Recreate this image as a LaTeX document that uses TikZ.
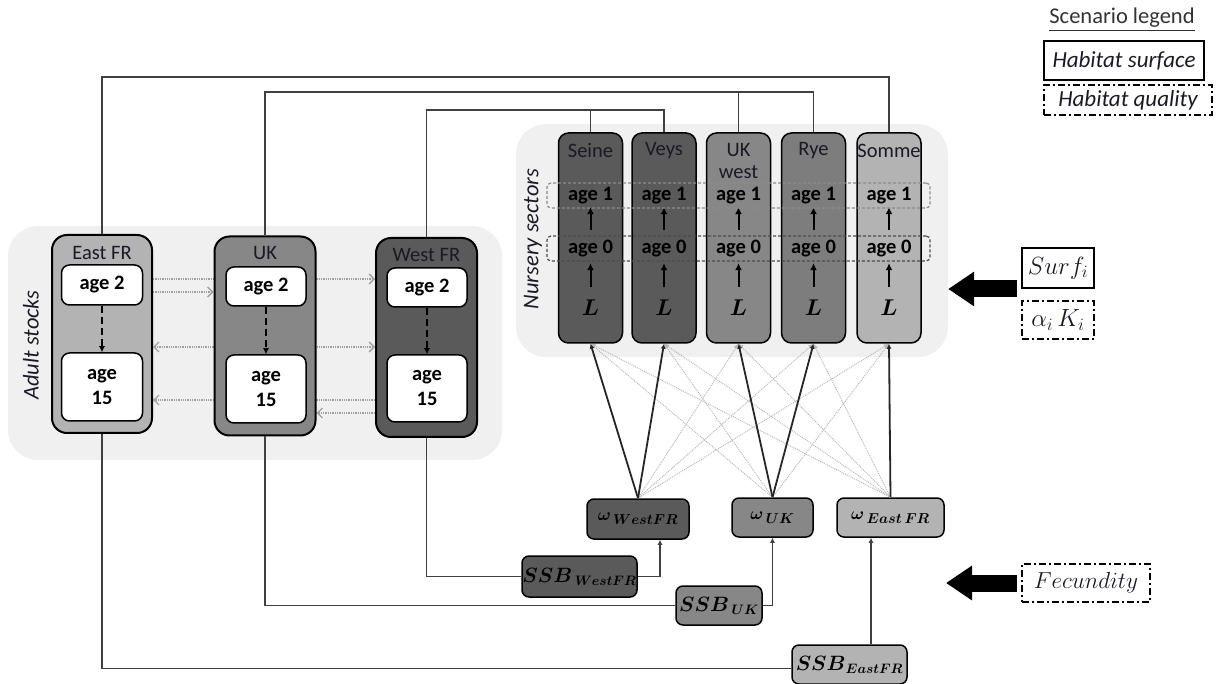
\documentclass[tikz,border=0pt]{standalone}
\usepackage{amsmath}
\usepackage{fontspec}
\setmainfont{Carlito}
\usetikzlibrary{arrows.meta,calc}
\definecolor{bgc}{HTML}{F0F0F0}
\definecolor{lightc}{HTML}{B3B3B3}
\definecolor{midc}{HTML}{878787}
\definecolor{ryec}{HTML}{7D7D7D}
\definecolor{darkc}{HTML}{5A5A5A}
\definecolor{txt}{HTML}{1A1A24}
\definecolor{dotc}{HTML}{A0A0A0}
\definecolor{linec}{HTML}{404040}
\pgfdeclarelayer{back}
\pgfdeclarelayer{mid}
\pgfsetlayers{back,mid,main}
\newcommand{\bsy}[1]{\boldsymbol{#1}}
\newcommand{\ssbsub}[1]{\scalebox{0.95}{$\scriptstyle\boldsymbol{#1}$}}
\tikzset{
 bgbox/.style={fill=bgc, draw=none, rounded corners=30pt, inner sep=0pt},
 stockbox/.style={draw=black, line width=2pt, rounded corners=15pt, inner sep=0pt},
 agebox/.style={draw=black, line width=1.5pt, fill=white, rounded corners=8pt, inner sep=0pt, align=center, text=black, font=\fontsize{20.5}{25}\selectfont\bfseries},
 sectorbox/.style={draw=black, line width=1.5pt, rounded corners=10pt, inner sep=0pt, minimum width=64pt, minimum height=210pt},
 lbl/.style={inner sep=0pt, align=center, text=txt, font=\fontsize{20.5}{22}\selectfont},
 blbl/.style={inner sep=0pt, align=center, text=black, font=\fontsize{20.5}{22}\selectfont\bfseries, text height=14pt, text depth=4pt},
 sidelbl/.style={inner sep=0pt, text=txt, rotate=90, font=\fontsize{22.5}{24}\selectfont\itshape},
 migr/.style={draw=dotc, densely dotted, line width=1.3pt, -{Straight Barb[length=5pt,width=10pt]}},
 agearrow/.style={draw=black, line width=2pt, dash pattern=on 7pt off 4pt, -{Latex[length=6pt,width=6pt]}},
 uparrow/.style={draw=black, line width=2pt, -{Latex[length=7pt,width=7pt]}},
 rowbox/.style={line width=1.2pt, dash pattern=on 3pt off 2pt, rounded corners=4pt, inner sep=0pt, minimum width=383pt, minimum height=25pt},
 wbox/.style={draw=black, line width=1.5pt, rounded corners=7pt, inner sep=0pt, font=\fontsize{19}{22}\selectfont, text=black},
 sbox/.style={wbox, font=\fontsize{21}{24}\selectfont},
 slink/.style={draw=black!85, line width=1.8pt, -{Latex[length=5pt,width=5pt]}},
 wlink/.style={draw=black!28, densely dotted, line width=1pt, -{Latex[length=5pt,width=5pt]}},
 conn/.style={draw=linec, line width=1.2pt},
 connarrow/.style={conn, -{Latex[length=5pt,width=5pt]}},
 solidbox/.style={draw=black, line width=2pt, inner sep=0pt},
 ddbox/.style={draw=black, line width=2pt, inner sep=0pt, dash pattern=on 7pt off 3pt on 2pt off 3pt},
 bigarrow/.style={draw=black, line width=17pt, -{Triangle[length=26pt,width=33pt]}},
 mathlbl/.style={inner sep=0pt, text=txt, font=\fontsize{21}{24}\selectfont},
 legtxt/.style={inner sep=0pt, text=txt, font=\fontsize{23}{26}\selectfont\itshape}
}
\begin{document}
\begin{tikzpicture}[x=1pt,y=-1pt]
\useasboundingbox (0,0) rectangle (1216,684);

% backgrounds
\begin{pgfonlayer}{back}
\node[bgbox, minimum width=494pt, minimum height=234pt] (adultbg) at (255,343) {};
\node[bgbox, minimum width=432pt, minimum height=233pt] (nursbg) at (732,240.5) {};
\end{pgfonlayer}

\node[sidelbl] (adultlbl) at (31,345) {Adult stocks};
\node[sidelbl] (nurslbl) at (533,239) {Nursery sectors};

% adult stocks
\node[stockbox, fill=lightc, minimum width=100pt, minimum height=198pt] (EastFR) at (102,334) {};
\node[stockbox, fill=midc, minimum width=101pt, minimum height=199pt] (UK) at (265,336) {};
\node[stockbox, fill=darkc, minimum width=101pt, minimum height=199pt] (WestFR) at (426.5,337.5) {};
\node[lbl] (EastFRt) at (102,253) {East FR};
\node[lbl] (UKt) at (265,253) {UK};
\node[lbl] (WestFRt) at (426.5,255) {West FR};
\node[agebox, minimum width=81pt, minimum height=40pt] (E2) at (102,285) {age 2};
\node[agebox, minimum width=80pt, minimum height=39pt] (U2) at (266,286.5) {age 2};
\node[agebox, minimum width=80pt, minimum height=39pt] (W2) at (427,287.5) {age 2};
\node[agebox, minimum width=81pt, minimum height=68pt] (E15) at (102,387) {age\\15};
\node[agebox, minimum width=80pt, minimum height=68pt] (U15) at (266,389) {age\\15};
\node[agebox, minimum width=80pt, minimum height=67pt] (W15) at (427,388.5) {age\\15};
\draw[agearrow] (E2.south) -- (E15.north);
\draw[agearrow] (U2.south) -- (U15.north);
\draw[agearrow] (W2.south) -- (W15.north);

% migration
\begin{pgfonlayer}{mid}
\draw[migr] (EastFR.east |- 0,279) -- (WestFR.west |- 0,279);
\draw[migr] (EastFR.east |- 0,292) -- (UK.west |- 0,292);
\draw[migr] (UK.east |- 0,347) -- (WestFR.west |- 0,347);
\draw[migr] (UK.west |- 0,347) -- (EastFR.east |- 0,347);
\draw[migr] (WestFR.west |- 0,400) -- (EastFR.east |- 0,400);
\draw[migr] (WestFR.west |- 0,413) -- (UK.east |- 0,413);
\end{pgfonlayer}

% nursery sectors
\foreach \n/\x/\c/\t/\ty in {Seine/590.5/darkc/Seine/151, Veys/664/darkc/Veys/151, UKw/738.5/midc/{UK\\west}/161.5, Rye/813.5/ryec/Rye/151, Somme/889/lightc/Somme/151}{
  \node[sectorbox, fill=\c] (\n) at (\x,238) {};
  \node[lbl] (\n-t) at (\x,\ty) {\t};
  \node[blbl] (\n-1) at (\x,196) {age 1};
  \node[blbl] (\n-0) at (\x,249) {age 0};
  \node[inner sep=0pt, text height=14pt, text depth=0pt, font=\fontsize{20}{22}\selectfont] (\n-L) at (\x,309) {\scalebox{1.1}{$\bsy{L}$}};
  \draw[uparrow, shorten <=15pt, shorten >=5pt] (\n-L.north) -- (\n-0.south);
  \draw[uparrow, shorten <=10pt, shorten >=2pt] (\n-0.north) -- (\n-1.south);
}
\node[rowbox, draw=black!45] (row1) at (738.5,195.5) {};
\node[rowbox, draw=black!70] (row0) at (738.5,248.5) {};

% top connectors
\coordinate (t1) at (500,77);
\coordinate (t2) at (500,92);
\coordinate (t3) at (500,110);
\draw[conn] (EastFR.north) |- (t1) -| (Somme.north);
\draw[conn] (UK.north) |- (t2) -| (Rye.north);
\draw[conn] (UKw.north) -- (UKw.north |- t2);
\draw[conn] (WestFR.north) |- (t3) -| (Veys.north);
\draw[conn] (Seine.north) -- (Seine.north |- t3);

% omega and SSB boxes
\node[wbox, fill=darkc, minimum width=102pt, minimum height=40pt] (wW) at (638,519) {$\bsy{\omega}_{\,\bsy{WestFR}}$};
\node[wbox, fill=midc, minimum width=81pt, minimum height=39pt] (wU) at (772.5,517.5) {$\bsy{\omega}_{\,\bsy{UK}}$};
\node[wbox, fill=lightc, minimum width=107pt, minimum height=39pt] (wE) at (890.5,517.5) {$\bsy{\omega}_{\,\bsy{East\,FR}}$};
\node[sbox, fill=darkc, minimum width=115pt, minimum height=41pt] (sW) at (579.5,576.5) {$\bsy{SSB}_{\,\ssbsub{WestFR}}$};
\node[sbox, fill=midc, minimum width=86pt, minimum height=39pt] (sU) at (719,605.5) {$\bsy{SSB}_{\,\ssbsub{UK}}$};
\node[sbox, fill=lightc, minimum width=115pt, minimum height=39pt] (sE) at (849.5,664.5) {$\bsy{SSB}_{\ssbsub{EastFR}}$};

% weak links
\foreach \s/\tg in {wW/UKw, wW/Rye, wW/Somme, wU/Seine, wU/Veys, wU/Somme, wE/Seine, wE/Veys, wE/UKw, wE/Rye}{
  \draw[wlink] (\s.north) -- (\tg.south);
}
% strong links
\foreach \s/\tg in {wW/Seine, wW/Veys, wU/UKw, wU/Rye, wE/Somme}{
  \draw[slink] (\s.north) -- (\tg.south);
}

% SSB connectors
\draw[conn] (WestFR.south) |- (sW.west);
\draw[connarrow] (sW.east) -| ([xshift=22pt]wW.south);
\draw[conn] (UK.south) |- (sU.west);
\draw[connarrow] (sU.east) -| (wU.south);
\draw[conn] (EastFR.south) |- ([yshift=-4pt]sE.west);
\draw[connarrow] ([xshift=21.5pt]sE.north) -- ([xshift=21.5pt]sE.north |- wE.south);

% scenario inputs
\node[solidbox, minimum width=72pt, minimum height=40pt] (surf) at (1058,268) {};
\node[mathlbl] (surft) at (surf.center) {\scalebox{1.2}{$Surf_i$}};
\node[ddbox, minimum width=72pt, minimum height=38pt] (alk) at (1058,320) {};
\node[mathlbl] (alkt) at (alk.center) {\scalebox{1.2}{$\alpha_i\,K_i$}};
\node[ddbox, minimum width=128pt, minimum height=38pt] (fec) at (1086,583) {};
\node[mathlbl] (fect) at (fec.center) {\scalebox{1.12}{$Fecundity$}};
\draw[bigarrow] ([xshift=-4pt]surf.south west) -- (nursbg.east |- surf.south west);
\draw[bigarrow] ([xshift=-4pt]fec.west) -- ++(-71,0);

% legend
\node[inner sep=0pt, text=black!80, font=\fontsize{22.5}{24}\selectfont] (legt) at (1122,20) {\underline{Scenario legend}};
\node[solidbox, minimum width=160pt, minimum height=39pt] (hs) at (1124,60.5) {};
\node[legtxt] (hst) at (hs.center) {Habitat surface};
\node[ddbox, minimum width=168pt, minimum height=30pt] (hq) at (1128,100) {};
\node[legtxt] (hqt) at (hq.center) {Habitat quality};
\end{tikzpicture}
\end{document}
